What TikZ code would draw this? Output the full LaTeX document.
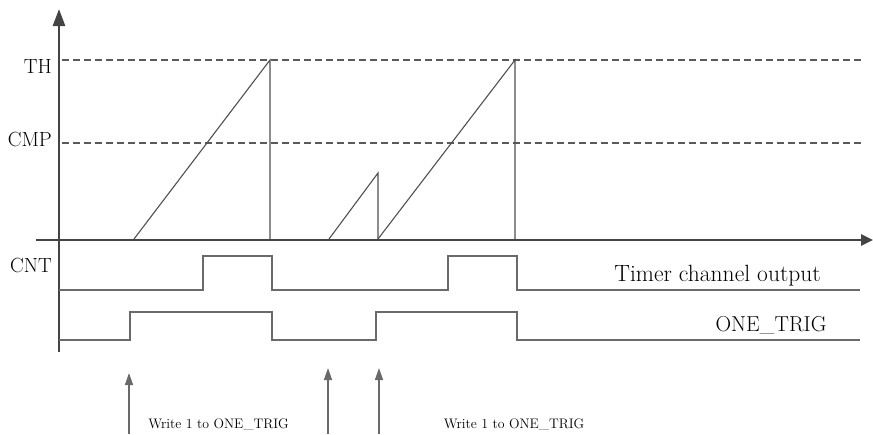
\documentclass[tikz,border=0pt]{standalone}
\usetikzlibrary{arrows.meta}
\definecolor{axiscol}{HTML}{444444}
\definecolor{wavecol}{HTML}{6A6A6A}
\definecolor{rampcol}{HTML}{505050}
\definecolor{dashcol}{HTML}{5A5A5A}
\begin{document}
\begin{tikzpicture}[x=1pt,y=-1pt,
  axisline/.style={draw=axiscol, line width=2.6pt},
  wave/.style={draw=wavecol, line width=1.6pt},
  ramp/.style={draw=rampcol, line width=1.1pt},
  level/.style={draw=dashcol, line width=1.1pt, dash pattern=on 7pt off 4pt},
  evarrow/.style={draw=wavecol, line width=1.4pt, -{Triangle[length=12pt,width=8pt]}},
  lbl/.style={inner sep=0pt, font=\fontsize{20.5}{22}\selectfont},
  sig/.style={inner sep=0pt, font=\fontsize{23.5}{25}\selectfont},
  note/.style={inner sep=0pt, font=\fontsize{13.8}{15}\selectfont}]
\useasboundingbox (0,0) rectangle (873,434);
% axes
\coordinate (ybot) at (59,352);
\coordinate (ytop) at (59,9);
\coordinate (xleft) at (36,240);
\coordinate (xright) at (873,240);
\draw[axisline, -{Triangle[length=17pt,width=12pt]}] (ybot) -- (ytop);
\draw[axisline, -{Triangle[length=12pt,width=11pt]}] (xleft) -- (xright);
% level lines
\coordinate (thA) at (62,60);  \coordinate (thB) at (863,60);
\coordinate (cmA) at (62,143); \coordinate (cmB) at (863,143);
\draw[level] (thA) -- (thB);
\draw[level] (cmA) -- (cmB);
\node[lbl, anchor=base east] (th) at (52,73) {TH};
\node[lbl, anchor=base east] (cmp) at (52,146) {CMP};
\node[lbl, anchor=base east] (cnt) at (52,272) {CNT};
% ramps
\draw[ramp] (134,239) -- (270,60) -- (270,239);
\draw[ramp] (329,239) -- (378,173) -- (378,239);
\draw[ramp] (378,239) -- (515,60) -- (515,239);
% timer channel output
\draw[wave] (59,290) -- (203,290) -- (203,256) -- (272,256) -- (272,290)
  -- (448,290) -- (448,256) -- (517,256) -- (517,290) -- (860,290);
\node[sig, anchor=base] (tco) at (717.5,281) {Timer channel output};
% ONE_TRIG
\draw[wave] (59,340) -- (130,340) -- (130,312) -- (272,312) -- (272,340)
  -- (376,340) -- (376,312) -- (517,312) -- (517,340) -- (860,340);
\node[sig, font=\fontsize{21.6}{23}\selectfont, anchor=base] (ot) at (771,331) {ONE\_TRIG};
% write events
\coordinate (e1b) at (129,434); \coordinate (e1t) at (129,373);
\coordinate (e2b) at (328,434); \coordinate (e2t) at (328,368);
\coordinate (e3b) at (379,434); \coordinate (e3t) at (379,368);
\draw[evarrow] (e1b) -- (e1t);
\draw[evarrow] (e2b) -- (e2t);
\draw[evarrow] (e3b) -- (e3t);
\node[note, anchor=base] (w1) at (218.5,428) {Write 1 to ONE\_TRIG};
\node[note, anchor=base] (w2) at (514,428) {Write 1 to ONE\_TRIG};
\end{tikzpicture}
\end{document}
